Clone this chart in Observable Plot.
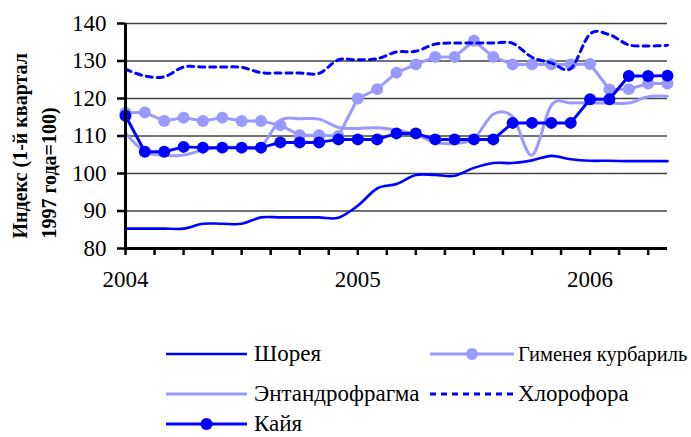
<!DOCTYPE html>
<html><head><meta charset="utf-8">
<script src="https://cdn.jsdelivr.net/npm/d3@7"></script>
<script src="https://cdn.jsdelivr.net/npm/@observablehq/plot@0.6"></script>
<style>
body{margin:0;background:#fff;}
#chart{position:relative;width:691px;height:437px;overflow:hidden;background:#fff;font-family:"Liberation Serif","DejaVu Serif",serif;}
#chart svg text{font-family:"Liberation Serif","DejaVu Serif",serif;}
#legend{position:absolute;left:0;top:300px;width:691px;height:137px;}
.item{position:absolute;height:24px;font-size:23px;line-height:24px;color:#000;white-space:nowrap;font-family:"Liberation Serif","DejaVu Serif",serif;}
.item svg{position:absolute;top:0;}
.item span{position:absolute;top:0;}
</style></head><body><div id="chart"></div>
<script>
// ---- data ----
const months = d3.range(29);               // Jan 2004 ... May 2006, monthly
const yearTicks = [0, 12, 24];
const yearLabels = ["2004", "2005", "2006"];
const minorTicks = d3.range(0, 28, 1.5);
const yTicks = [80, 90, 100, 110, 120, 130, 140];
const yTitle = ["Индекс (1-й квартал", "1997 года=100)"];
const seriesNames = ["Шорея", "Гименея курбариль", "Энтандрофрагма", "Хлорофора", "Кайя"];

const shorea = [85.3,85.3,85.3,85.3,86.6,86.6,86.6,88.3,88.3,88.3,88.3,88.2,91.4,96.0,97.2,99.6,99.6,99.4,101.5,102.8,102.8,103.5,104.7,103.8,103.4,103.4,103.3,103.3,103.3];
const gimenea = [116.2,116.3,114.0,114.9,114.0,114.9,114.0,114.0,112.9,110.2,110.2,110.0,120.0,122.5,126.9,129.1,131.1,131.1,135.4,131.1,129.1,129.1,129.1,129.1,129.2,122.4,122.5,124.0,124.0];
const entandro = [110.8,105.8,104.9,104.9,106.3,107.0,107.0,107.2,114.2,114.6,114.5,112.3,112.0,112.2,111.6,110.4,108.3,108.0,109.3,115.8,115.1,104.9,118.2,118.8,118.8,118.8,118.8,120.5,120.6];
const chloro = [127.8,126.0,125.8,128.4,128.4,128.4,128.3,126.9,126.8,126.8,126.7,130.3,130.3,130.6,132.4,132.6,134.5,134.8,134.8,134.8,134.7,131.0,129.5,128.0,137.2,137.0,134.3,134.0,134.2];
const kaya = [115.4,105.8,105.8,107.1,106.9,106.9,106.9,106.9,108.3,108.3,108.3,109.1,109.1,109.1,110.7,110.7,109.1,109.1,109.1,109.1,113.5,113.5,113.5,113.5,119.8,119.8,126.0,126.0,126.1];

// ---- styles ----
const BLUE = "#0000ff", LIGHT = "#9999ff";
const FONT = "Liberation Serif, DejaVu Serif, serif";
const styles = {
  "Шорея": {stroke: BLUE, width: 2.6, dash: null, dot: false, curve: "cardinal"},
  "Гименея курбариль": {stroke: LIGHT, width: 3, dash: null, dot: true, curve: "linear"},
  "Энтандрофрагма": {stroke: LIGHT, width: 3, dash: null, dot: false, curve: "cardinal"},
  "Хлорофора": {stroke: BLUE, width: 3, dash: "6,5", dot: false, curve: "cardinal"},
  "Кайя": {stroke: BLUE, width: 3, dash: null, dot: true, curve: "linear"}
};
const seriesValues = [shorea, gimenea, entandro, chloro, kaya];
const rows = (vals) => vals.map((v, i) => ({m: months[i], v}));

const seriesMarks = [];
seriesNames.forEach((name, k) => {
  const s = styles[name];
  const data = rows(seriesValues[k]);
  seriesMarks.push(Plot.line(data, {x: "m", y: "v", stroke: s.stroke, strokeWidth: s.width,
    strokeDasharray: s.dash || undefined, curve: s.curve}));
  if (s.dot) seriesMarks.push(Plot.dot(data, {x: "m", y: "v", r: 6, fill: s.stroke}));
});

const plot = Plot.plot({
  width: 691, height: 300,
  marginLeft: 125, marginRight: 24, marginTop: 23, marginBottom: 52,
  style: {fontFamily: FONT, background: "white", overflow: "visible", color: "#000"},
  x: {domain: [0, 28]},
  y: {domain: [80, 140]},
  marks: [
    Plot.ruleY(yTicks.filter(t => t > 80), {stroke: "#444", strokeWidth: 1.3}),
    ...seriesMarks,
    Plot.ruleX([0], {stroke: "#000", strokeWidth: 3}),
    Plot.ruleY([80], {stroke: "#000", strokeWidth: 3}),
    Plot.axisY({ticks: yTicks, tickSize: 8, tickPadding: 11, fontSize: 23, strokeWidth: 2.5, label: null}),
    Plot.axisX({ticks: minorTicks, tickSize: 7, tickFormat: () => "", strokeWidth: 2.5, label: null}),
    Plot.axisX({ticks: yearTicks, tickSize: 0, tickPadding: 22, fontSize: 23, label: null,
      tickFormat: d => yearLabels[yearTicks.indexOf(d)]}),
    Plot.text([yTitle.join("\n")], {text: d => d, frameAnchor: "bottom-left", dx: -70, dy: -10,
      rotate: -90, textAnchor: "start", lineHeight: 1.45, fontSize: 20, fontWeight: "bold"})
  ]
});
const chart = document.getElementById("chart");
chart.appendChild(plot);

// ---- legend (HTML, below the SVG) ----
const legend = document.createElement("div");
legend.id = "legend";
chart.appendChild(legend);
const legendLayout = [
  {name: "Шорея", left: 166, w: 81, gap: 7, top: 42, fs: 23},
  {name: "Гименея курбариль", left: 430, w: 84, gap: 4, top: 42, fs: 20.5},
  {name: "Энтандрофрагма", left: 166, w: 81, gap: 7, top: 82, fs: 23},
  {name: "Хлорофора", left: 430, w: 84, gap: 4, top: 82, fs: 23},
  {name: "Кайя", left: 166, w: 81, gap: 7, top: 112, fs: 23}
];
legendLayout.forEach(L => {
  const s = styles[L.name];
  const it = document.createElement("div");
  it.className = "item";
  it.style.left = L.left + "px";
  it.style.top = L.top + "px";
  it.style.fontSize = L.fs + "px";
  const sw = `<svg width="${L.w}" height="24" style="left:0"><line x1="0" x2="${L.w}" y1="12" y2="12" stroke="${s.stroke}" stroke-width="${s.width}" ${s.dash ? `stroke-dasharray="${s.dash}"` : ""}/>${s.dot ? `<circle cx="${L.w/2}" cy="12" r="6" fill="${s.stroke}"/>` : ""}</svg>`;
  it.innerHTML = sw + `<span style="left:${L.w + L.gap}px">${L.name}</span>`;
  legend.appendChild(it);
});
</script></body></html>
